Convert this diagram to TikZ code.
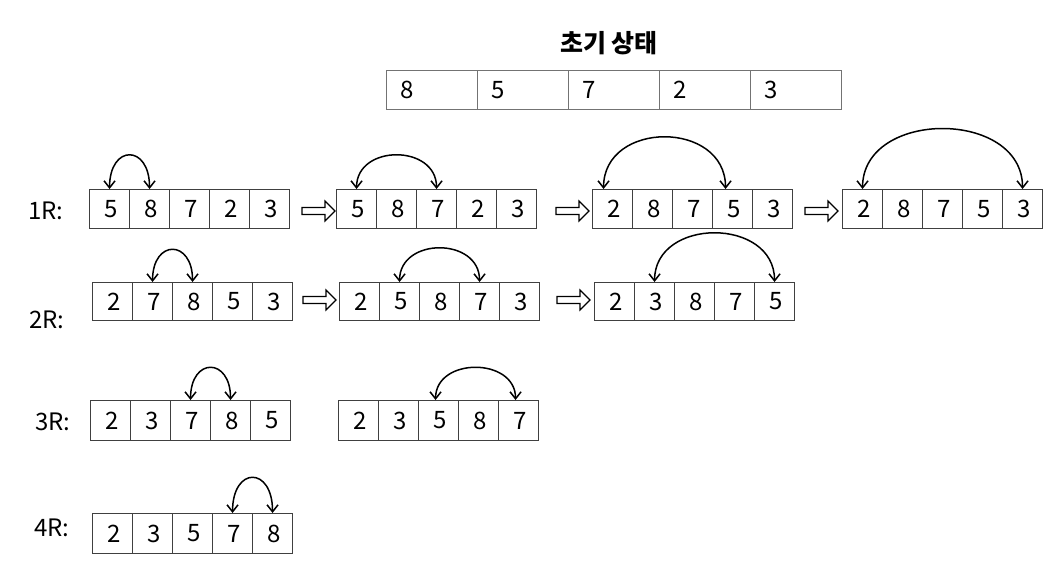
\documentclass[tikz,border=0pt]{standalone}
\usepackage{fontspec}
\setmainfont{Noto Sans CJK KR}
\usetikzlibrary{arrows.meta}
\tikzset{
  cell/.style={draw=black!75, line width=1.1pt, rectangle, anchor=north west, align=left,
    inner ysep=0pt, inner xsep=0pt, font=\fontsize{24}{28}\selectfont},
  initcell/.style={cell, draw=black!55},
  swaparc/.style={{Straight Barb[length=7pt,width=11pt]}-{Straight Barb[length=7pt,width=11pt]}, line width=1.5pt},
  rowlabel/.style={font=\fontsize{24}{28}\selectfont, inner sep=0pt},
  titlestyle/.style={font=\bfseries\fontsize{25}{30}\selectfont, inner sep=0pt},
  hollow/.pic={\draw[line width=1.2pt, line join=miter]
    (0,-3.5) -- (23,-3.5) -- (23,-10) -- (33,0) -- (23,10) -- (23,3.5) -- (0,3.5) -- cycle;}
}
% #1 name, #2 x, #3 y, #4 cell width, #5 height, #6 left pad, #7 style, #8 values
\newcommand\celltable[8]{%
  \foreach \v [count=\i] in {#8} {%
    \pgfmathsetmacro\tw{#4-#6}%
    \node[#7, minimum width=#4pt, minimum height=#5pt, text width=\tw pt]
      (#1-\i) at ({#2+(\i-1)*#4}, #3) {\hspace*{#6pt}\v};
  }%
}
\begin{document}
\begin{tikzpicture}[x=1pt,y=-1pt]
\useasboundingbox (0,0) rectangle (1055,563);

\node[titlestyle] (title) at (609,43) {초기 상태};
\celltable{init}{386}{70}{91}{39}{9}{initcell}{8,5,7,2,3}

% 1R
\node[rowlabel] (l1) at (46,211) {1R:};
\celltable{ra}{89}{189}{40}{39}{10}{cell}{5,8,7,2,3}
\celltable{rb}{336}{189}{40}{39}{10}{cell}{5,8,7,2,3}
\celltable{rc}{592}{189}{40}{39}{10}{cell}{2,8,7,5,3}
\celltable{rd}{842}{189}{40}{39}{10}{cell}{2,8,7,5,3}
\pic at (302,211) {hollow};
\pic at (556,211) {hollow};
\pic at (805,211) {hollow};
\draw[swaparc] (ra-1.north) .. controls +(0,-45) and +(0,-45) .. (ra-2.north);
\draw[swaparc] (rb-1.north) .. controls +(0,-45) and +(0,-45) .. (rb-3.north);
\draw[swaparc] ([xshift=-9pt]rc-1.north) .. controls +(0,-69) and +(0,-69) .. ([xshift=-7pt]rc-4.north);
\draw[swaparc] (rd-1.north) .. controls +(0,-80) and +(0,-80) .. (rd-5.north);

% 2R
\node[rowlabel] (l2) at (47,320) {2R:};
\celltable{sa}{92}{282}{40}{38}{10}{cell}{2,7,8,5,3}
\celltable{sb}{339}{282}{40}{38}{10}{cell}{2,5,8,7,3}
\celltable{sc}{594}{282}{40}{38}{10}{cell}{2,3,8,7,5}
\pic at (303,300) {hollow};
\pic at (557,300) {hollow};
\draw[swaparc] (sa-2.north) .. controls +(0,-43) and +(0,-43) .. (sa-3.north);
\draw[swaparc] (sb-2.north) .. controls +(0,-45) and +(0,-45) .. (sb-4.north);
\draw[swaparc] (sc-2.north) .. controls +(0,-65) and +(0,-65) .. (sc-5.north);

% 3R
\node[rowlabel] (l3) at (53,422) {3R:};
\celltable{ta}{90}{400}{40}{40}{10}{cell}{2,3,7,8,5}
\celltable{tb}{338}{400}{40}{40}{10}{cell}{2,3,5,8,7}
\draw[swaparc] (ta-3.north) .. controls +(0,-43) and +(0,-43) .. (ta-4.north);
\draw[swaparc] ([xshift=-3pt]tb-3.north) .. controls +(0,-43) and +(0,-43) .. ([xshift=-3pt]tb-5.north);

% 4R
\node[rowlabel] (l4) at (52,528) {4R:};
\celltable{ua}{92}{513}{40}{40}{10}{cell}{2,3,5,7,8}
\draw[swaparc] (ua-4.north) .. controls +(0,-47) and +(0,-47) .. (ua-5.north);
\end{tikzpicture}
\end{document}
